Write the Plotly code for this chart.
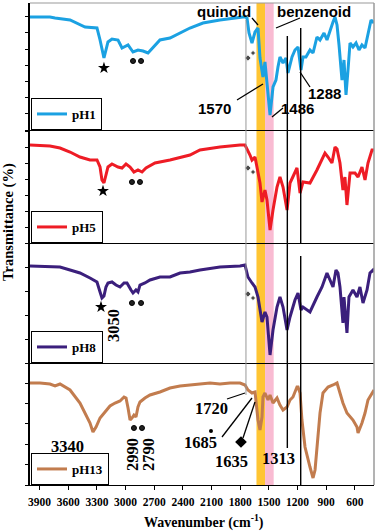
import plotly.graph_objects as go
from plotly.subplots import make_subplots

# ---------------- data ----------------
panel_names = ["pH1", "pH5", "pH8", "pH13"]
panel_colors = ["#1BA1E2", "#EE1C25", "#3B1F7C", "#C27C4E"]

wn_ph1 = [4000, 3791, 3738, 3581, 3424, 3299, 3267, 3226, 3184, 3142, 3079, 3037, 2974, 2922, 2870, 2817,
          2765, 2640, 2535, 2430, 2326, 2190, 2012, 1771, 1750, 1729, 1708, 1677, 1645, 1614, 1593, 1562,
          1541, 1520, 1488, 1457, 1426, 1405, 1384, 1352, 1321, 1300, 1258, 1227, 1195, 1164, 1143, 1112,
          1070, 1038, 997, 965, 923, 892, 860, 829, 808, 787, 766, 746, 735, 714, 693, 672, 651, 620,
          588, 557, 526, 494, 463, 431, 400]
t_ph1 = [113, 113, 112, 110, 103, 102, 90, 72, 88, 91, 90, 82, 85, 78, 80, 79,
         77, 90, 92, 97, 102, 107, 110, 113, 113, 112, 97, 87, 98, 102, 72, 53,
         68, 47, 15, 43, 50, 63, 73, 67, 72, 57, 73, 80, 83, 60, 73, 73,
         80, 77, 93, 90, 97, 90, 100, 108, 113, 105, 85, 60, 50, 70, 35, 60, 87, 83,
         87, 80, 85, 82, 95, 110, 107]

wn_ph5 = [4000, 3791, 3686, 3581, 3477, 3372, 3299, 3267, 3247, 3226, 3205, 3184, 3142, 3079, 3037, 2995,
          2953, 2912, 2870, 2828, 2786, 2692, 2535, 2326, 2221, 2012, 1802, 1750, 1698, 1677, 1645, 1614,
          1593, 1572, 1541, 1520, 1488, 1457, 1415, 1384, 1352, 1310, 1279, 1206, 1174, 1143, 1070, 997,
          965, 913, 881, 840, 808, 787, 756, 725, 704, 683, 651, 599, 567, 526, 494, 463, 421, 400]
t_ph5 = [98, 97, 95, 91, 86, 83, 83, 76, 63, 60, 68, 76, 79, 76, 75, 79,
         76, 71, 73, 71, 75, 80, 83, 88, 93, 96, 98, 98, 88, 83, 86, 70,
         60, 41, 53, 43, 13, 33, 56, 66, 56, 33, 60, 75, 50, 61, 60, 73,
         80, 90, 86, 80, 96, 94, 80, 53, 66, 38, 70, 70, 66, 76, 63, 80, 93, 93]

wn_ph8 = [4000, 3791, 3686, 3581, 3477, 3372, 3299, 3267, 3247, 3226, 3205, 3184, 3142, 3100, 3058, 3016,
          2985, 2943, 2922, 2891, 2870, 2849, 2797, 2744, 2640, 2535, 2430, 2326, 2221, 2012, 1802, 1750,
          1719, 1677, 1645, 1614, 1572, 1541, 1520, 1488, 1467, 1457, 1415, 1384, 1352, 1310, 1279, 1227,
          1195, 1164, 1143, 1070, 997, 944, 892, 860, 829, 798, 777, 756, 725, 714, 683, 662, 620, 578,
          547, 515, 473, 442, 410, 400]
t_ph8 = [97, 96, 96, 93, 90, 85, 81, 71, 65, 67, 76, 80, 81, 78, 76, 80,
         80, 73, 70, 73, 71, 78, 80, 83, 86, 86, 90, 91, 93, 96, 97, 98,
         86, 80, 76, 66, 41, 51, 46, 8, 26, 33, 56, 66, 56, 33, 46, 63,
         70, 53, 56, 51, 66, 76, 90, 83, 76, 93, 90, 76, 40, 66, 30, 66, 73, 66,
         76, 60, 73, 90, 93, 91]

wn_ph13 = [4000, 3895, 3791, 3738, 3686, 3581, 3477, 3424, 3372, 3341, 3309, 3267, 3215, 3163, 3110, 3058,
           3016, 2995, 2974, 2953, 2933, 2912, 2891, 2870, 2849, 2797, 2744, 2640, 2535, 2430, 2326, 2221,
           2116, 2012, 1907, 1802, 1750, 1719, 1677, 1645, 1614, 1593, 1572, 1562, 1541, 1509, 1488, 1457,
           1415, 1384, 1352, 1310, 1279, 1248, 1206, 1195, 1174, 1154, 1122, 1070, 1038, 1017, 997, 965,
           934, 881, 829, 787, 756, 725, 683, 651, 620, 578, 567, 526, 494, 463, 421, 400]
t_ph13 = [102, 102, 101, 99, 101, 95, 82, 72, 62, 53, 58, 67, 73, 79, 82, 84,
          88, 87, 77, 65, 67, 70, 68, 78, 83, 87, 90, 93, 97, 99, 100, 101,
          102, 101, 102, 102, 100, 95, 92, 93, 65, 55, 68, 88, 92, 85, 90, 82,
          87, 80, 75, 78, 85, 88, 98, 98, 92, 65, 38, 18, 7, 15, 38, 72,
          92, 98, 100, 102, 92, 82, 72, 68, 65, 58, 52, 62, 72, 85, 92, 95]

panel_wn = [wn_ph1, wn_ph5, wn_ph8, wn_ph13]
panel_t = [t_ph1, t_ph5, t_ph8, t_ph13]
panel_ymax = [127, 113, 120, 122]
panel_dtick = [16.2, 16, 24, 20.4]

# band markers (star = N-H, dots = C-H, small diamonds near 1720)
star_wn = [3226, 3236, 3257]
star_t = [62, 52, 56]
dot_wn = [[2922, 2838], [2933, 2849], [2933, 2838], [2912, 2828]]
dot_t = [[69, 69], [61, 61], [60, 60], [57, 57]]
dia_wn = [[1719, 1666], [1719, 1666], [1719, 1666]]
dia_t = [[72, 77], [75, 71], [69, 65]]
p13_small_wn = [2106]
p13_small_t = [54]
p13_dia_wn = [1792]
p13_dia_t = [43]

xtick_vals = [3900, 3600, 3300, 3000, 2700, 2400, 2100, 1800, 1500, 1200, 900, 600]
quinoid_band = [1630, 1540]
benzenoid_band = [1540, 1450]
gray_line_wn = 1740
black_line1_wn = 1307
black_line2_wn = 1167

# ---------------- layout helpers ----------------
W, H = 378, 532
L, R, T, B = 30, 4, 3, 47


def px(x):
    return (x - L) / (W - L - R)


def py(y):
    return (H - B - y) / (H - T - B)


fig = make_subplots(rows=4, cols=1, shared_xaxes=True, vertical_spacing=0,
                    row_heights=panel_ymax)

legend_ids = ["legend", "legend2", "legend3", "legend4"]
for i in range(4):
    fig.add_trace(go.Scatter(x=panel_wn[i], y=panel_t[i], mode="lines", name=panel_names[i],
                             line=dict(color=panel_colors[i], width=3), legend=legend_ids[i]),
                  row=i + 1, col=1)

for i in range(3):
    fig.add_trace(go.Scatter(x=[star_wn[i]], y=[star_t[i]], mode="markers", showlegend=False,
                             marker=dict(symbol="star", size=9, color="black")), row=i + 1, col=1)
    fig.add_trace(go.Scatter(x=dia_wn[i], y=dia_t[i], mode="markers", showlegend=False,
                             marker=dict(symbol="diamond", size=[5, 4], color="black")), row=i + 1, col=1)
for i in range(4):
    fig.add_trace(go.Scatter(x=dot_wn[i], y=dot_t[i], mode="markers", showlegend=False,
                             marker=dict(symbol="circle", size=5, color="#222",
                                         line=dict(color="black", width=1))), row=i + 1, col=1)
fig.add_trace(go.Scatter(x=p13_small_wn, y=p13_small_t, mode="markers", showlegend=False,
                         marker=dict(symbol="circle", size=4, color="black")), row=4, col=1)
fig.add_trace(go.Scatter(x=p13_dia_wn, y=p13_dia_t, mode="markers", showlegend=False,
                         marker=dict(symbol="diamond", size=9, color="black")), row=4, col=1)

# axes
for i in range(4):
    fig.update_yaxes(range=[0, panel_ymax[i]], tick0=0, dtick=panel_dtick[i], showticklabels=False,
                     ticks="outside", ticklen=3, tickcolor="black", showline=True, linecolor="black",
                     linewidth=1.5, showgrid=False, zeroline=False, row=i + 1, col=1)
    fig.update_xaxes(range=[4000, 400], showgrid=False, zeroline=False, showline=True,
                     linecolor="black", linewidth=1.3, row=i + 1, col=1)
for i in range(3):
    fig.update_xaxes(ticks="", showticklabels=False, row=i + 1, col=1)
fig.update_xaxes(tickvals=xtick_vals, ticktext=[str(v) for v in xtick_vals], ticks="outside",
                 ticklen=4, tickcolor="black", ticklabelstandoff=2,
                 tickfont=dict(family="Liberation Serif", size=11.5, color="black", weight="bold"),
                 row=4, col=1)

shapes = []
# coloured bands
shapes.append(dict(type="rect", xref="x", yref="paper", x0=quinoid_band[0], x1=quinoid_band[1], y0=0, y1=1,
                   fillcolor="#FFC533", line=dict(width=0), layer="below"))
shapes.append(dict(type="rect", xref="x", yref="paper", x0=benzenoid_band[0], x1=benzenoid_band[1], y0=0, y1=1,
                   fillcolor="#F9BBD2", line=dict(width=0), layer="below"))
# frame top/right (gray)
shapes.append(dict(type="line", xref="paper", yref="paper", x0=0, x1=1, y0=1, y1=1,
                   line=dict(color="#9A9A9A", width=1.2)))
shapes.append(dict(type="line", xref="paper", yref="paper", x0=1, x1=1, y0=0, y1=1,
                   line=dict(color="#9A9A9A", width=1.5)))
# vertical guide lines
shapes.append(dict(type="line", xref="x", yref="paper", x0=gray_line_wn, x1=gray_line_wn,
                   y0=py(395), y1=py(20), line=dict(color="#999999", width=1)))
shapes.append(dict(type="line", xref="x", yref="paper", x0=black_line1_wn, x1=black_line1_wn,
                   y0=py(448), y1=py(36), line=dict(color="black", width=1.4)))
shapes.append(dict(type="line", xref="x", yref="paper", x0=black_line2_wn, x1=black_line2_wn,
                   y0=py(243), y1=py(28), line=dict(color="black", width=1.4)))
shapes.append(dict(type="line", xref="x", yref="paper", x0=black_line2_wn, x1=black_line2_wn,
                   y0=0, y1=py(256), line=dict(color="black", width=1.4)))
# leader lines
leaders = [((252, 18), (258, 25)), ((300, 18), (276, 28)), ((237, 100), (263, 84)),
           ((272, 117), (283, 108)), ((300, 72), (310, 87)), ((227, 399), (245, 393)),
           ((222, 437), (252, 398)), ((243, 438), (255, 402))]
for (a, b) in leaders:
    shapes.append(dict(type="line", xref="paper", yref="paper", x0=px(a[0]), y0=py(a[1]),
                       x1=px(b[0]), y1=py(b[1]), line=dict(color="black", width=1.3)))

annotations = []
sans = "Liberation Sans"
serif = "Liberation Serif"


def add_text(text, x, y, family, size, angle=0):
    annotations.append(dict(text="<b>" + text + "</b>", x=px(x), y=py(y), xref="paper", yref="paper",
                            showarrow=False, xanchor="center", yanchor="middle", textangle=angle,
                            font=dict(family=family, size=size, color="black")))


add_text("quinoid", 224, 11, sans, 15)
add_text("benzenoid", 314, 11, sans, 15)
add_text("1570", 215, 108, sans, 15)
add_text("1486", 297, 108, sans, 15)
add_text("1288", 324, 93, sans, 15)
add_text("3050", 113, 326, serif, 16.5, -90)
add_text("3340", 67, 446, serif, 16.5)
add_text("2990", 132, 455, serif, 16.5, -90)
add_text("2790", 148, 455, serif, 16.5, -90)
add_text("1720", 211, 408, serif, 16.5)
add_text("1685", 200, 442, serif, 16.5)
add_text("1635", 231, 461, serif, 16.5)
add_text("1313", 278, 458, serif, 16.5)
add_text("Transmittance (%)", 8, 222, serif, 14.5, -90)
add_text("Wavenumber (cm<sup>-1</sup>)", 204, 521, serif, 14)

legend_bottoms = [130, 243, 363, 485]
leg_common = dict(x=px(31), xanchor="left", yanchor="bottom", bgcolor="white", bordercolor="black",
                  borderwidth=1, font=dict(family=serif, size=13, color="black", weight="bold"),
                  itemwidth=30, tracegroupgap=0)
legends = {}
for i in range(4):
    legends[legend_ids[i]] = dict(y=py(legend_bottoms[i]), **leg_common)

fig.update_layout(width=W, height=H, margin=dict(l=L, r=R, t=T, b=B),
                  plot_bgcolor="white", paper_bgcolor="white", shapes=shapes,
                  annotations=annotations, **legends)

fig.write_html("out.html", config={"displayModeBar": False},
               post_script="document.body.style.margin='0px';document.body.style.overflow='hidden';")
